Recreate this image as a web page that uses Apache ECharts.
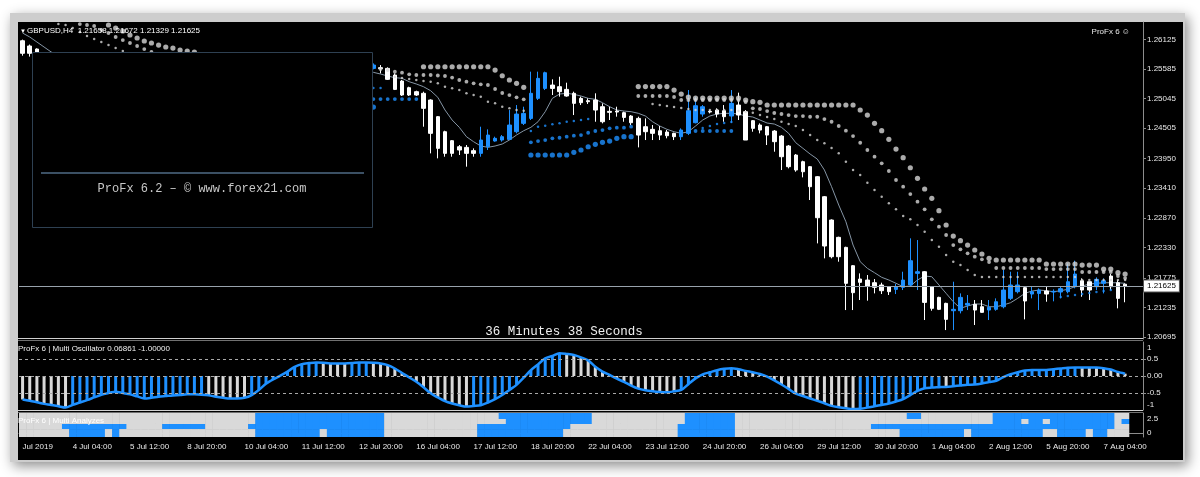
<!DOCTYPE html>
<html><head><meta charset="utf-8">
<script src="https://cdn.jsdelivr.net/npm/echarts@6/dist/echarts.min.js"></script>
<style>html,body{margin:0;padding:0;background:#fff}#c{width:1200px;height:477px}</style>
</head><body><div id="c"></div>
<script>
// ---------- DATA ----------
// H4 bars, [open, high, low, close]
const ohlc = [
[1.26099,1.26120,1.25826,1.25870],[1.26003,1.26030,1.25810,1.25870],[1.25948,1.25960,1.25850,1.25893],[1.25860,1.25880,1.25740,1.25780],
[1.25780,1.25850,1.25720,1.25830],[1.25830,1.25860,1.25760,1.25790],[1.25790,1.25820,1.25700,1.25730],[1.25730,1.25790,1.25680,1.25760],
[1.25760,1.25800,1.25650,1.25680],[1.25680,1.25740,1.25640,1.25720],[1.25720,1.25760,1.25690,1.25740],[1.25740,1.25760,1.25710,1.25730],
[1.25730,1.25760,1.25660,1.25690],[1.25690,1.25720,1.25600,1.25640],[1.25640,1.25680,1.25520,1.25560],[1.25560,1.25600,1.24880,1.24950],
[1.24950,1.25100,1.24830,1.24870],[1.24870,1.24920,1.24810,1.24880],[1.24880,1.24980,1.24840,1.24950],[1.24950,1.25050,1.24920,1.25020],
[1.25020,1.25100,1.24950,1.25000],[1.25000,1.25090,1.24860,1.24900],[1.24900,1.24990,1.24850,1.24960],[1.24960,1.24990,1.24920,1.24940],
[1.24940,1.24970,1.24850,1.24880],[1.24880,1.24920,1.24700,1.24740],[1.24740,1.24800,1.24560,1.24620],[1.24620,1.24680,1.24400,1.24450],
[1.24450,1.24600,1.24390,1.24560],[1.24560,1.24620,1.24500,1.24580],[1.24580,1.24620,1.24480,1.24520],[1.24520,1.24560,1.24400,1.24440],
[1.24440,1.24510,1.24390,1.24480],[1.24480,1.24560,1.24420,1.24530],[1.24530,1.25200,1.24500,1.25060],[1.25060,1.25250,1.25000,1.25180],
[1.25180,1.25280,1.25120,1.25220],[1.25220,1.25360,1.25180,1.25310],[1.25310,1.25480,1.25260,1.25430],[1.25430,1.25540,1.25150,1.25220],
[1.25220,1.25310,1.25010,1.25080],[1.25080,1.25180,1.25040,1.25150],[1.25150,1.25200,1.25090,1.25120],[1.25120,1.25260,1.25100,1.25230],
[1.25230,1.25420,1.25200,1.25380],[1.25380,1.25520,1.25340,1.25480],[1.25480,1.25720,1.25450,1.25680],[1.25680,1.25760,1.25620,1.25700],
[1.25700,1.25780,1.25600,1.25620],[1.25595,1.25686,1.25577,1.25656],[1.25608,1.25656,1.25504,1.25590],[1.25595,1.25614,1.25383,1.25395],
[1.25474,1.25504,1.25200,1.25212],[1.25364,1.25383,1.25091,1.25109],[1.25243,1.25261,1.25091,1.25109],[1.25170,1.25188,1.25091,1.25109],
[1.25140,1.25170,1.24531,1.24866],[1.25018,1.25030,1.24045,1.24410],[1.24714,1.24726,1.23954,1.24136],[1.24440,1.24458,1.23984,1.24045],
[1.24276,1.24288,1.23984,1.24045],[1.24166,1.24197,1.24015,1.24106],[1.24154,1.24197,1.23802,1.24045],[1.24094,1.24136,1.23984,1.24045],
[1.24045,1.24531,1.23984,1.24288],[1.24166,1.24483,1.24106,1.24379],[1.24270,1.24349,1.24258,1.24319],[1.24288,1.24379,1.24258,1.24349],
[1.24300,1.24835,1.24288,1.24562],[1.24440,1.24926,1.24410,1.24762],[1.24592,1.24896,1.24562,1.24774],[1.24683,1.25535,1.24653,1.25140],
[1.25048,1.25535,1.25018,1.25413],[1.25230,1.25535,1.25200,1.25516],[1.25291,1.25395,1.25109,1.25230],[1.25261,1.25443,1.25079,1.25170],
[1.25212,1.25334,1.25079,1.25091],[1.25140,1.25170,1.24744,1.24957],[1.25048,1.25079,1.24926,1.24969],[1.25006,1.25048,1.24945,1.24987],
[1.25018,1.25140,1.24622,1.24835],[1.24896,1.24957,1.24592,1.24622],[1.24811,1.24896,1.24653,1.24793],[1.24817,1.24896,1.24714,1.24799],
[1.24787,1.24805,1.24622,1.24701],[1.24726,1.24744,1.24562,1.24604],[1.24683,1.24714,1.24154,1.24379],[1.24531,1.24683,1.24288,1.24440],
[1.24483,1.24562,1.24288,1.24410],[1.24458,1.24543,1.24288,1.24379],[1.24434,1.24471,1.24319,1.24367],[1.24410,1.24422,1.24288,1.24349],
[1.24349,1.24501,1.24288,1.24471],[1.24410,1.25200,1.24379,1.24823],[1.24604,1.25079,1.24592,1.24914],[1.24762,1.24926,1.24714,1.24896],
[1.24811,1.24835,1.24774,1.24799],[1.24835,1.24866,1.24701,1.24762],[1.24823,1.24926,1.24622,1.24714],[1.24726,1.25200,1.24604,1.24957],
[1.24926,1.25152,1.24653,1.24744],[1.24805,1.24835,1.24288,1.24288],[1.24641,1.24653,1.24440,1.24501],[1.24562,1.24592,1.24410,1.24470],
[1.24531,1.24544,1.24197,1.24379],[1.24452,1.24470,1.24075,1.24258],[1.24361,1.24379,1.23741,1.23984],[1.24179,1.24197,1.23771,1.23802],
[1.24014,1.24033,1.23710,1.23741],[1.23893,1.23911,1.23607,1.23710],[1.23802,1.23814,1.23194,1.23437],[1.23619,1.23631,1.22403,1.22871],
[1.23254,1.23267,1.22130,1.22355],[1.22829,1.22841,1.22130,1.22160],[1.22513,1.22525,1.22069,1.22160],[1.22330,1.22342,1.21187,1.21674],
[1.21996,1.22008,1.21187,1.21504],[1.21753,1.21856,1.21370,1.21692],[1.21734,1.21826,1.21358,1.21625],[1.21686,1.21753,1.21491,1.21601],
[1.21644,1.21686,1.21479,1.21540],[1.21613,1.21625,1.21461,1.21522],[1.21564,1.21662,1.21479,1.21613],[1.21601,1.21886,1.21552,1.21734],
[1.21644,1.22495,1.21613,1.22087],[1.21856,1.22464,1.21552,1.21886],[1.21886,1.21898,1.21005,1.21327],[1.21613,1.21625,1.21175,1.21218],
[1.21418,1.21430,1.21187,1.21200],[1.21309,1.21321,1.20822,1.21017],[1.21175,1.21704,1.20822,1.21200],[1.21175,1.21491,1.21126,1.21418],
[1.21278,1.21461,1.21187,1.21309],[1.21291,1.21370,1.20914,1.21187],[1.21248,1.21370,1.21139,1.21145],[1.21187,1.21370,1.21005,1.21236],
[1.21200,1.21400,1.21175,1.21339],[1.21248,1.21917,1.21218,1.21552],[1.21400,1.21886,1.21370,1.21644],[1.21522,1.21886,1.21491,1.21644],
[1.21595,1.21613,1.21017,1.21352],[1.21479,1.21613,1.21400,1.21522],[1.21491,1.21583,1.21187,1.21552],[1.21534,1.21613,1.21339,1.21479],
[1.21516,1.21564,1.21346,1.21528],[1.21516,1.21613,1.21400,1.21577],[1.21522,1.22038,1.21491,1.21704],[1.21613,1.22087,1.21583,1.21844],
[1.21722,1.21765,1.21430,1.21552],[1.21704,1.21704,1.21370,1.21552],[1.21613,1.21783,1.21552,1.21747],[1.21674,1.21765,1.21491,1.21722],
[1.21807,1.21844,1.21552,1.21613],[1.21686,1.21734,1.21218,1.21400],[1.21658,1.21672,1.21329,1.21625]
];
const ma = [1.26240,1.26167,1.26076,1.25985,1.25894,1.25839,1.25802,1.25766,1.25748,1.25729,1.25711,1.25693,1.25675,1.25638,1.25583,1.25492,1.25401,1.25310,1.25273,1.25255,1.25237,1.25219,1.25200,1.25182,1.25164,1.25109,1.25055,1.24982,1.24945,1.24909,1.24872,1.24836,1.24817,1.24817,1.24909,1.25018,1.25091,1.25164,1.25237,1.25255,1.25237,1.25237,1.25255,1.25292,1.25346,1.25419,1.25492,1.25529,1.25547,
1.25523,1.25492,1.25456,1.25425,1.25414,1.25352,1.25310,1.25261,1.25188,1.25067,1.24836,1.24653,1.24520,1.24349,1.24257,1.24179,1.24155,1.24179,1.24215,1.24288,1.24380,1.24458,1.24520,1.24622,1.24805,1.25049,1.25127,1.25140,1.25122,1.25091,1.25049,1.25031,1.24969,1.24896,1.24836,1.24817,1.24805,1.24776,1.24726,1.24622,1.24544,1.24484,1.24440,1.24411,1.24440,1.24544,1.24653,1.24726,1.24763,1.24775,1.24775,1.24763,1.24726,1.24708,1.24653,1.24598,1.24580,1.24520,1.24411,1.24239,1.24137,1.24033,1.23942,1.23741,1.23437,1.23103,1.22798,1.22373,1.22069,1.21948,1.21868,1.21784,1.21735,1.21675,1.21613,1.21625,1.21735,1.21808,1.21795,1.21644,1.21492,1.21339,1.21219,1.21261,1.21297,1.21297,1.21248,1.21248,1.21279,1.21321,1.21401,1.21492,1.21534,1.21552,1.21540,1.21521,1.21540,1.21565,1.21613,1.21625,1.21662,1.21674,1.21685,1.21685,1.21685,1.21674];

// band dots: [bar index, price]
const grayLarge = [[12,1.26386],[13,1.26331],[14,1.26277],[15,1.26204],[16,1.26149],[17,1.26094],[18,1.26058],[19,1.26021],[20,1.25985],[21,1.25966],[22,1.25930],[23,1.25912],[24,1.25894],
[56,1.25625],[57,1.25625],[58,1.25625],[59,1.25625],[60,1.25625],[61,1.25625],[62,1.25625],[63,1.25625],[64,1.25625],[65,1.25625],[66,1.25565],[67,1.25461],[68,1.25383],[69,1.25323],[70,1.25250],
[86,1.25264],[87,1.25264],[88,1.25264],[89,1.25264],[90,1.25264],[91,1.25200],[92,1.25127],[93,1.25073],[94,1.25054],[95,1.25054],[96,1.25054],[97,1.25054],[98,1.25054],[99,1.25054],[100,1.25054],[101,1.25018],[102,1.24987],[103,1.24976],
[104,1.24927],[105,1.24927],[106,1.24927],[107,1.24927],[108,1.24927],[109,1.24927],[110,1.24927],[111,1.24927],[112,1.24927],[113,1.24927],[114,1.24927],[115,1.24927],[116,1.24927],
[117,1.24836],[118,1.24744],[119,1.24593],[120,1.24458],[121,1.24301],[122,1.24124],[123,1.23966],[124,1.23783],[125,1.23590],[126,1.23395],[127,1.23225],[128,1.22999],[129,1.22738],[130,1.22537],[131,1.22452],[132,1.22373],[133,1.22282],[134,1.22209],[135,1.22131],
[136,1.22100],[137,1.22100],[138,1.22100],[139,1.22100],[140,1.22100],[141,1.22100],[142,1.22100],[143,1.22027],[144,1.22027],[145,1.22027],[146,1.22027],[147,1.22027],[148,1.22008],[149,1.22008],[150,1.22008],[151,1.21935],[152,1.21935],[153,1.21868],[154,1.21844]];
const grayMid = [[8,1.26404],[9,1.26386],[10,1.26368],[11,1.26295],[12,1.26240],[13,1.26167],[14,1.26112],[15,1.26058],[16,1.26003],[17,1.25948],[18,1.25894],
[50,1.25583],[51,1.25565],[52,1.25534],[53,1.25516],[54,1.25487],[55,1.25474],[56,1.25474],[57,1.25474],[58,1.25465],[59,1.25456],[60,1.25428],[61,1.25383],[62,1.25352],[63,1.25323],[64,1.25304],[65,1.25292],[66,1.25219],[67,1.25146],[68,1.25109],[69,1.25067],[70,1.25031],
[86,1.25091],[87,1.25091],[88,1.25091],[89,1.25091],[90,1.25091],[91,1.25073],[92,1.25018],[93,1.25018],[94,1.25018],[95,1.25018],[96,1.25018],[97,1.25018],[98,1.25018],[99,1.25018],[100,1.25018],[101,1.24982],
[102,1.24867],[103,1.24854],[104,1.24817],[105,1.24781],[106,1.24763],[107,1.24744],[108,1.24726],[109,1.24726],[110,1.24713],[111,1.24713],[112,1.24671],[113,1.24622],[114,1.24544],[115,1.24458],[116,1.24361],[117,1.24239],[118,1.24106],[119,1.23984],[120,1.23863],[121,1.23723],[122,1.23559],[123,1.23437],[124,1.23303],[125,1.23163],[126,1.23024],[127,1.22842],[128,1.22707],[129,1.22556],[130,1.22373],[131,1.22295],[132,1.22222],[133,1.22160],[134,1.22112],[135,1.22063],
[136,1.21954],[137,1.21954],[138,1.21954],[139,1.21954],[140,1.21954],[141,1.21954],[142,1.21954],[143,1.21935],[144,1.21935],[145,1.21935],[146,1.21935],[147,1.21935],[148,1.21881],[149,1.21881],[150,1.21881],[151,1.21881],[152,1.21881],[153,1.21808],[154,1.21771]];
const graySmall = [[5,1.26404],[6,1.26386],[7,1.26331],[8,1.26258],[9,1.26185],[10,1.26131],[11,1.26076],[12,1.26021],[13,1.25966],[14,1.25912],
[52,1.25438],[53,1.25419],[54,1.25401],[55,1.25383],[56,1.25365],[57,1.25352],[58,1.25323],[59,1.25261],[60,1.25231],[61,1.25200],[62,1.25140],[63,1.25109],[64,1.25078],[65,1.24987],[66,1.24958],[67,1.24896],[68,1.24867],[69,1.24836],[70,1.24823],
[88,1.24945],[89,1.24927],[90,1.24909],[91,1.24890],[92,1.24872],[93,1.24854],[94,1.24836],[95,1.24836],[96,1.24836],[97,1.24836],[98,1.24836],[99,1.24836],[100,1.24817],[101,1.24799],
[102,1.24786],[103,1.24744],[104,1.24708],[105,1.24671],[106,1.24622],[107,1.24580],[108,1.24544],[109,1.24470],[110,1.24379],[111,1.24288],[112,1.24228],[113,1.24142],[114,1.24046],[115,1.23893],[116,1.23741],[117,1.23650],[118,1.23510],[119,1.23376],[120,1.23254],[121,1.23134],[122,1.23024],[123,1.22902],[124,1.22842],[125,1.22738],[126,1.22616],[127,1.22464],[128,1.22342],[129,1.22191],[130,1.22069],[131,1.22008],[132,1.21917],[133,1.21826],
[134,1.21790],[135,1.21790],[136,1.21790],[137,1.21790],[138,1.21790],[139,1.21790],[140,1.21790],[141,1.21790],[142,1.21790],[143,1.21790],[144,1.21790],[145,1.21790],[146,1.21790],[147,1.21790],[148,1.21735],[149,1.21735],[150,1.21735],[151,1.21735],[152,1.21735],[153,1.21735],[154,1.21735]];
const blueLarge = [[47,1.24890],[48,1.24890],[49,1.24890],[71,1.24015],[72,1.24015],[73,1.24015],[74,1.24015],[75,1.24015],[76,1.24015],[77,1.24064],[78,1.24106],[79,1.24166],[80,1.24210],[81,1.24246],[82,1.24270],[83,1.24319],[84,1.24349],[85,1.24349]];
const blueMid = [[47,1.25036],[48,1.25036],[49,1.25036],[50,1.25036],[51,1.25036],[52,1.25036],[53,1.25036],[54,1.25036],[55,1.25036],
[71,1.24246],[72,1.24270],[73,1.24288],[74,1.24319],[75,1.24330],[76,1.24349],[77,1.24367],[78,1.24379],[79,1.24421],[80,1.24453],[81,1.24470],[82,1.24502],[83,1.24513],[84,1.24513],[85,1.24531],
[94,1.24453],[95,1.24453],[96,1.24453],[97,1.24453],[98,1.24453],[99,1.24453]];
const blueSmall = [[47,1.25237],[48,1.25237],[49,1.25237],[50,1.25237],[71,1.24453],[72,1.24531],[73,1.24549],[74,1.24575],[75,1.24593],[76,1.24622],[77,1.24635],[78,1.24653],[79,1.24671],
[95,1.24507],[96,1.24544],[97,1.24580],[98,1.24598],[99,1.24617],
[145,1.21425],[146,1.21443],[147,1.21461],[148,1.21479],[149,1.21498],[150,1.21516],[151,1.21534],[152,1.21552]];

// Multi Oscillator line
const osc = [-0.69,-0.73,-0.77,-0.82,-0.85,-0.89,-0.93,-0.85,-0.78,-0.71,-0.63,-0.55,-0.50,-0.46,-0.50,-0.54,-0.60,-0.66,-0.64,-0.61,-0.59,-0.57,-0.56,-0.54,-0.54,-0.55,-0.57,-0.61,-0.64,-0.66,-0.66,-0.64,-0.56,-0.41,-0.23,-0.10,0.01,0.13,0.27,0.35,0.38,0.40,0.39,0.37,0.37,0.37,0.38,0.40,0.40,0.39,0.37,0.32,0.22,0.09,-0.04,-0.17,-0.33,-0.51,-0.63,-0.74,-0.81,-0.86,-0.90,-0.88,-0.86,-0.78,-0.68,-0.56,-0.41,-0.26,-0.05,0.17,0.34,0.52,0.59,0.67,0.65,0.62,0.55,0.46,0.27,0.13,0.03,-0.08,-0.17,-0.28,-0.37,-0.42,-0.45,-0.47,-0.48,-0.45,-0.41,-0.24,-0.07,0.05,0.11,0.17,0.21,0.23,0.20,0.15,0.11,0.06,-0.02,-0.13,-0.25,-0.38,-0.52,-0.59,-0.66,-0.73,-0.80,-0.88,-0.92,-0.95,-0.97,-0.96,-0.93,-0.89,-0.85,-0.81,-0.75,-0.68,-0.56,-0.44,-0.36,-0.34,-0.33,-0.32,-0.30,-0.28,-0.26,-0.25,-0.22,-0.18,-0.14,-0.03,0.05,0.11,0.16,0.18,0.18,0.18,0.20,0.22,0.24,0.25,0.25,0.25,0.25,0.23,0.19,0.12,0.06861];
// histogram bars drawn blue on these bar ranges, white elsewhere
const oscBlueRuns = [[7,17],[18,25],[32,41],[46,48],[63,75],[92,99],[117,128],[130,136],[138,147]];

// Multi Analyzes rows (top to bottom): runs of blue bars
const anaRuns = [
  [[33,50],[67,79],[93,99],[124,125],[136,152]],
  [[33,50],[68,79],[93,99],[136,139],[141,142],[144,152],[154,154]],
  [[6,14],[20,25],[32,50],[64,76],[92,99],[119,152]],
  [[7,11],[13,13],[33,41],[43,50],[64,75],[92,99],[123,131],[133,142],[145,148],[150,151]]
];

const priceTicks = [1.26125,1.25585,1.25045,1.24505,1.23950,1.23410,1.22870,1.22330,1.21775,1.21235,1.20695];
const lastPrice = 1.21625;
const xTickIdx = [0,7,15,23,31,39,47,55,63,71,79,87,95,103,111,119,127,135,143,151];
const xTickText = ['Jul 2019','4 Jul 04:00','5 Jul 12:00','8 Jul 20:00','10 Jul 04:00','11 Jul 12:00','12 Jul 20:00','16 Jul 04:00','17 Jul 12:00','18 Jul 20:00','22 Jul 04:00','23 Jul 12:00','24 Jul 20:00','26 Jul 04:00','29 Jul 12:00','30 Jul 20:00','1 Aug 04:00','2 Aug 12:00','5 Aug 20:00','7 Aug 04:00'];
const slotCount = 157; // bars plus the empty chart shift on the right

// ---------- BUILD ----------
const BLUE = '#1e90ff', WHITE = '#ffffff', GRAY = '#d6d6d6', TXT = '#e8e8e8';
const FONT = '"Liberation Sans", Arial, sans-serif';
const cats = Array.from({length: slotCount}, (_, i) => String(i));
const candle = ohlc.map(d => [d[0], d[3], d[2], d[1]]);
const inRuns = (i, runs) => runs.some(r => i >= r[0] && i <= r[1]);
const oscBars = osc.map((v, i) => ({value: v, itemStyle: {color: inRuns(i, oscBlueRuns) ? BLUE : '#d9d9d9'}}));
const anaData = [];
anaRuns.forEach((runs, r) => { for (let i = 0; i < ohlc.length; i++) anaData.push([i, r, inRuns(i, runs) ? 1 : 0]); });
const rowHi = [3.57, 2.5, 1.61, 0.71], rowLo = [2.5, 1.61, 0.71, -0.71];

const gridL = 19, gridW = 1124;
function xAxisFor(g, showLabels) {
  return {
    type: 'category', gridIndex: g, data: cats, boundaryGap: true,
    axisLine: {show: showLabels, lineStyle: {color: '#8c8c8c'}},
    axisTick: {show: showLabels, interval: (i) => xTickIdx.indexOf(i) >= 0, length: 4, lineStyle: {color: '#8c8c8c'}},
    axisLabel: {show: showLabels, interval: (i) => xTickIdx.indexOf(i) >= 0,
      formatter: (v) => xTickText[xTickIdx.indexOf(Number(v))] || '',
      align: 'left', color: TXT, fontSize: 8, fontFamily: FONT, margin: 6},
    splitLine: {show: false}
  };
}

function dots(data, size, color) {
  return {type: 'scatter', xAxisIndex: 0, yAxisIndex: 0, data: data, symbol: 'circle', symbolSize: size,
    itemStyle: {color: color}, silent: true, z: 4};
}

const chart = echarts.init(document.getElementById('c'), null, {renderer: 'canvas'});
chart.setOption({
  animation: false,
  backgroundColor: '#ffffff',
  grid: [
    {left: gridL, width: gridW, top: 22, height: 317},
    {left: gridL, width: gridW, top: 342, height: 68},
    {left: gridL, width: gridW, top: 413, height: 24}
  ],
  xAxis: [xAxisFor(0, false), xAxisFor(1, false), xAxisFor(2, true)],
  yAxis: [
    {type: 'value', gridIndex: 0, position: 'right', min: 1.20659, max: 1.26441, splitLine: {show: false},
      axisLine: {show: true, lineStyle: {color: '#8c8c8c'}},
      axisTick: {show: true, customValues: priceTicks, length: 3, lineStyle: {color: '#8c8c8c'}},
      axisLabel: {customValues: priceTicks, formatter: (v) => v.toFixed(5), color: TXT, fontSize: 8, fontFamily: FONT, margin: 4}},
    {type: 'value', gridIndex: 1, position: 'right', min: -1, max: 1, splitLine: {show: false},
      axisLine: {show: true, lineStyle: {color: '#8c8c8c'}},
      axisTick: {show: true, customValues: [0.5, 0, -0.5], length: 3, lineStyle: {color: '#8c8c8c'}},
      axisLabel: {customValues: [0.84, 0.5, 0, -0.5, -0.85],
        formatter: (v) => v > 0.7 ? '1' : (v < -0.7 ? '-1' : (v === 0 ? '0.00' : String(v))),
        color: TXT, fontSize: 8, fontFamily: FONT, margin: 4}},
    {type: 'value', gridIndex: 2, position: 'right', min: -0.71, max: 3.57, splitLine: {show: false},
      axisLine: {show: true, lineStyle: {color: '#8c8c8c'}},
      axisTick: {show: false},
      axisLabel: {customValues: [2.5, 0], formatter: (v) => String(v), color: TXT, fontSize: 8, fontFamily: FONT, margin: 4}}
  ],
  series: [
    {type: 'candlestick', xAxisIndex: 0, yAxisIndex: 0, data: candle, barWidth: 4, z: 3,
      itemStyle: {color: BLUE, color0: WHITE, borderColor: BLUE, borderColor0: WHITE, borderWidth: 1}},
    {type: 'line', xAxisIndex: 0, yAxisIndex: 0, data: ma, symbol: 'none', z: 2,
      lineStyle: {color: '#8595a5', width: 1},
      markLine: {silent: true, symbol: 'none', precision: 5, data: [{yAxis: lastPrice}],
        lineStyle: {color: '#98a2ac', width: 1, type: 'solid'},
        label: {position: 'end', formatter: () => lastPrice.toFixed(5), backgroundColor: '#ffffff', color: '#000',
          fontSize: 8, fontFamily: FONT, padding: [2, 3, 1, 3], distance: 1, borderColor: '#555', borderWidth: 1}}},
    dots(grayLarge, 5.2, GRAY), dots(grayMid, 3.8, GRAY), dots(graySmall, 2.5, GRAY),
    dots(blueLarge, 5.2, BLUE), dots(blueMid, 3.8, BLUE), dots(blueSmall, 2.5, BLUE),
    {type: 'bar', xAxisIndex: 1, yAxisIndex: 1, data: oscBars, barWidth: 3, z: 2, silent: true},
    {type: 'line', xAxisIndex: 1, yAxisIndex: 1, data: osc, symbol: 'none', smooth: 0.3, z: 3,
      lineStyle: {color: BLUE, width: 2.5},
      markLine: {silent: true, symbol: 'none', precision: 2, label: {show: false},
        lineStyle: {color: '#a8a8a8', width: 1, type: [3, 3]},
        data: [{yAxis: 0.5}, {yAxis: 0}, {yAxis: -0.5}]}},
    {type: 'custom', xAxisIndex: 2, yAxisIndex: 2, data: anaData, silent: true, z: 2,
      encode: {x: 0, y: 1},
      renderItem: function (params, api) {
        const i = api.value(0), r = api.value(1), f = api.value(2);
        const p1 = api.coord([i, rowHi[r]]), p2 = api.coord([i, rowLo[r]]);
        const w = api.size([1, 0])[0];
        return {type: 'rect', shape: {x: p1[0] - w / 2, y: p1[1], width: w + 0.6, height: p2[1] - p1[1]},
          style: {fill: f ? BLUE : '#d9d9d9'}};
      }}
  ],
  graphic: [
    {type: 'rect', z: -20, silent: true, shape: {x: 10, y: 13, width: 1175, height: 449},
      style: {fill: '#cdcdcd', shadowBlur: 12, shadowColor: 'rgba(0,0,0,0.45)', shadowOffsetX: 3, shadowOffsetY: 4}},
    {type: 'rect', z: -19, silent: true, shape: {x: 18, y: 22, width: 1165, height: 438}, style: {fill: '#000'}},
    {type: 'rect', z: 50, silent: true, shape: {x: 18, y: 338, width: 1125, height: 1}, style: {fill: '#d0d0d0'}},
    {type: 'rect', z: 50, silent: true, shape: {x: 18, y: 340, width: 1125, height: 1}, style: {fill: '#707070'}},
    {type: 'rect', z: 50, silent: true, shape: {x: 18, y: 410, width: 1125, height: 1}, style: {fill: '#d0d0d0'}},
    {type: 'rect', z: 50, silent: true, shape: {x: 18, y: 412, width: 1125, height: 1}, style: {fill: '#707070'}},
    {type: 'text', z: 90, silent: true, x: 20, y: 31, style: {text: '\u25BC', fill: '#fff', font: '6px ' + FONT, verticalAlign: 'middle'}},
    {type: 'text', z: 90, silent: true, x: 27, y: 31, style: {text: 'GBPUSD,H4  1.21658 1.21672 1.21329 1.21625', fill: '#fff', font: '8px ' + FONT, verticalAlign: 'middle'}},
    {type: 'text', z: 90, silent: true, x: 1130, y: 32, style: {text: 'ProFx 6 \u263A', fill: '#e8e8e8', font: '8px ' + FONT, align: 'right', verticalAlign: 'middle'}},
    {type: 'text', z: 90, silent: true, x: 564, y: 332, style: {text: '36 Minutes 38 Seconds', fill: '#f0f0f0', font: '12.5px "Liberation Mono", monospace', align: 'center', verticalAlign: 'middle'}},
    {type: 'text', z: 90, silent: true, x: 18, y: 349, style: {text: 'ProFx 6 | Multi Oscillator 0.06861 -1.00000', fill: '#f0f0f0', font: '8px ' + FONT, verticalAlign: 'middle'}},
    {type: 'text', z: 90, silent: true, x: 18, y: 421, style: {text: 'ProFx 6 | Multi Analyzes', fill: '#ffffff', font: '8px ' + FONT, verticalAlign: 'middle'}},
    {type: 'rect', z: 80, silent: true, shape: {x: 32.5, y: 52.5, width: 340, height: 175}, style: {fill: '#000', stroke: '#2e4052', lineWidth: 1}},
    {type: 'rect', z: 81, silent: true, shape: {x: 41, y: 172, width: 323, height: 2}, style: {fill: '#3b5064'}},
    {type: 'text', z: 81, silent: true, x: 202, y: 189, style: {text: 'ProFx 6.2 \u2013 \u00A9 www.forex21.com', fill: '#c8c8c8', font: '12px "Liberation Mono", monospace', align: 'center', verticalAlign: 'middle'}}
  ]
});
</script></body></html>
